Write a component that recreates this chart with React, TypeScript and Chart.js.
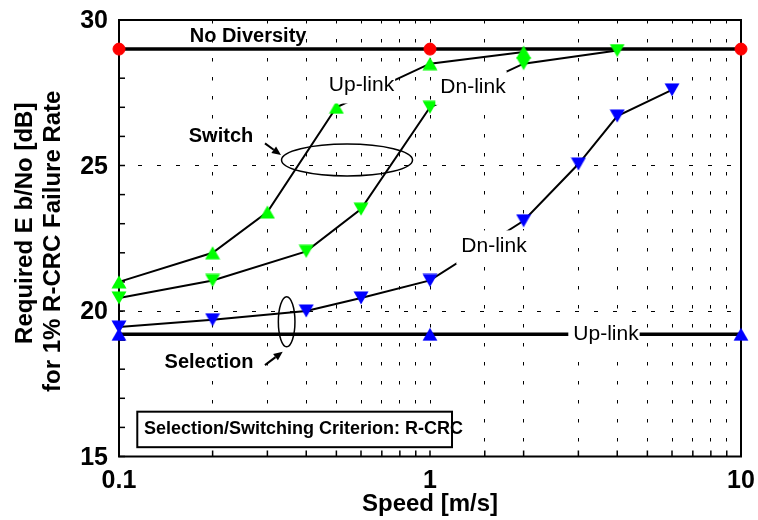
import { useEffect, useRef } from "react";
import { Chart, registerables } from "chart.js";
Chart.register(...registerables);

// ---- data ----
const noDivSpeed = [0.1, 1, 10];
const noDivEbNo = [29, 29, 29];
const selUpSpeed = [0.1, 1, 10];
const selUpEbNo = [19.2, 19.2, 19.2];
const selDnSpeed = [0.1, 0.2, 0.4, 0.6, 1, 2, 3, 4, 6];
const selDnEbNo = [19.45, 19.7, 20.0, 20.45, 21.05, 23.1, 25.05, 26.7, 27.6];
const swUpSpeed = [0.1, 0.2, 0.3, 0.5, 1, 2];
const swUpEbNo = [21.0, 22.0, 23.4, 27.0, 28.5, 28.9];
const swDnSpeed = [0.1, 0.2, 0.4, 0.6, 1, 2, 4];
const swDnEbNo = [20.45, 21.05, 22.05, 23.5, 27.0, 28.5, 28.95];

const xTickLabels = ["0.1", "1", "10"];
const yTickLabels = ["15", "20", "25", "30"];
const yGridValues = [20, 25];

const xTitle = "Speed [m/s]";
const yTitleLines = ["Required E b/No [dB]", "for 1% R-CRC Failure Rate"];
const criterionText = "Selection/Switching Criterion: R-CRC";

const FONT = "'Liberation Sans', Arial, Helvetica, sans-serif";

// annotations in data coordinates
const textNotes = [
  { text: "No Diversity", x: 0.26, y: 29.45, bold: true, size: 20, bg: false },
  { text: "Up-link", x: 0.602, y: 27.75, bold: false, size: 21, bg: true },
  { text: "Dn-link", x: 1.375, y: 27.7, bold: false, size: 21, bg: true },
  { text: "Switch", x: 0.2128, y: 25.98, bold: true, size: 20, bg: false },
  { text: "Selection", x: 0.1948, y: 18.23, bold: true, size: 20, bg: false },
  { text: "Dn-link", x: 1.606, y: 22.22, bold: false, size: 21, bg: true },
  { text: "Up-link", x: 3.68, y: 19.2, bold: false, size: 21, bg: true },
];
const ellipses = [
  { x: 0.541, y: 25.19, rx: 65.5, ry: 16 },
  { x: 0.346, y: 19.63, rx: 8.3, ry: 25 },
];
const arrows = [
  { x1: 0.2947, y1: 25.76, x2: 0.3318, y2: 25.36 },
  { x1: 0.2947, y1: 18.14, x2: 0.336, y2: 18.6 },
];
const criterionBox = { x1: 0.1145, y1: 16.54, x2: 1.177, y2: 15.32, tx: 0.1203, ty: 15.93 };

const pts = (xs: number[], ys: number[]) => xs.map((x, i) => ({ x, y: ys[i] }));

// triangle markers centred on their bounding box (as in the original plot)
const makeTri = (color: string, down: boolean) => {
  const c = document.createElement("canvas");
  c.width = 16;
  c.height = 14;
  const g = c.getContext("2d")!;
  g.fillStyle = color;
  g.beginPath();
  if (!down) {
    g.moveTo(8, 0.5);
    g.lineTo(15.5, 13.5);
    g.lineTo(0.5, 13.5);
  } else {
    g.moveTo(8, 13.5);
    g.lineTo(15.5, 0.5);
    g.lineTo(0.5, 0.5);
  }
  g.closePath();
  g.fill();
  return c;
};

const annotPlugin = {
  id: "annot",
  beforeDatasetsDraw(chart: any) {
    const { ctx, chartArea: a, scales } = chart;
    const xs = scales.x, ys = scales.y;
    ctx.save();
    ctx.strokeStyle = "#000";
    ctx.lineWidth = 1.5;
    ctx.setLineDash([]);
    for (const t of xs.ticks) {
      const px = xs.getPixelForValue(t.value);
      ctx.beginPath();
      ctx.moveTo(px, a.bottom);
      ctx.lineTo(px, a.bottom - 6);
      ctx.stroke();
    }
    for (const t of ys.ticks) {
      const py = ys.getPixelForValue(t.value);
      ctx.beginPath();
      ctx.moveTo(a.left, py);
      ctx.lineTo(a.left + 6, py);
      ctx.stroke();
    }
    ctx.lineWidth = 2;
    ctx.strokeRect(a.left, a.top, a.right - a.left, a.bottom - a.top);
    ctx.restore();
  },
  afterDatasetsDraw(chart: any) {
    const { ctx, scales } = chart;
    const xs = scales.x, ys = scales.y;
    const X = (v: number) => xs.getPixelForValue(v);
    const Y = (v: number) => ys.getPixelForValue(v);
    ctx.save();
    ctx.setLineDash([]);
    {
      const bx1 = X(criterionBox.x1), bx2 = X(criterionBox.x2);
      const by1 = Y(criterionBox.y1), by2 = Y(criterionBox.y2);
      ctx.fillStyle = "#fff";
      ctx.fillRect(bx1, by1, bx2 - bx1, by2 - by1);
      ctx.strokeStyle = "#000";
      ctx.lineWidth = 2;
      ctx.strokeRect(bx1, by1, bx2 - bx1, by2 - by1);
      ctx.fillStyle = "#000";
      ctx.font = `bold 18px ${FONT}`;
      ctx.textAlign = "left";
      ctx.textBaseline = "middle";
      ctx.fillText(criterionText, X(criterionBox.tx), Y(criterionBox.ty));
    }
    ctx.strokeStyle = "#000";
    ctx.lineWidth = 1.5;
    for (const e of ellipses) {
      ctx.beginPath();
      ctx.ellipse(X(e.x), Y(e.y), e.rx, e.ry, 0, 0, Math.PI * 2);
      ctx.stroke();
    }
    for (const ar of arrows) {
      const x1 = X(ar.x1), y1 = Y(ar.y1), x2 = X(ar.x2), y2 = Y(ar.y2);
      const ang = Math.atan2(y2 - y1, x2 - x1);
      const hl = 9, hw = 4;
      const bx = x2 - hl * Math.cos(ang), by = y2 - hl * Math.sin(ang);
      ctx.lineWidth = 2;
      ctx.beginPath();
      ctx.moveTo(x1, y1);
      ctx.lineTo(bx, by);
      ctx.stroke();
      ctx.fillStyle = "#000";
      ctx.beginPath();
      ctx.moveTo(x2, y2);
      ctx.lineTo(bx + hw * Math.sin(ang), by - hw * Math.cos(ang));
      ctx.lineTo(bx - hw * Math.sin(ang), by + hw * Math.cos(ang));
      ctx.closePath();
      ctx.fill();
    }
    for (const n of textNotes) {
      ctx.font = `${n.bold ? "bold " : ""}${n.size}px ${FONT}`;
      const w = ctx.measureText(n.text).width;
      const cx = X(n.x), cy = Y(n.y);
      if (n.bg) {
        ctx.fillStyle = "#fff";
        ctx.fillRect(cx - w / 2 - 5, cy - 16, w + 6, 34);
      }
      ctx.fillStyle = "#000";
      ctx.textAlign = "center";
      ctx.textBaseline = "middle";
      ctx.fillText(n.text, cx, cy);
    }
    ctx.restore();
  },
  afterDraw(chart: any) {
    const { ctx, chartArea: a } = chart;
    ctx.save();
    ctx.fillStyle = "#000";
    ctx.textAlign = "center";
    ctx.textBaseline = "middle";
    ctx.font = `bold 24px ${FONT}`;
    ctx.fillText(xTitle, (a.left + a.right) / 2, a.bottom + 48);
    const midY = (a.top + a.bottom) / 2;
    ctx.translate(25, midY - 15);
    ctx.rotate(-Math.PI / 2);
    ctx.fillText(yTitleLines[0], 0, 0);
    ctx.rotate(Math.PI / 2);
    ctx.translate(28, 18);
    ctx.rotate(-Math.PI / 2);
    ctx.fillText(yTitleLines[1], 0, 0);
    ctx.restore();
  },
};

const lineDs = (label: string, xs: number[], ys: number[], color: string, style: any, width: number, radius: number) => ({
  label,
  data: pts(xs, ys),
  borderColor: "#000",
  borderWidth: width,
  backgroundColor: color,
  pointStyle: style,
  pointRadius: radius,
  pointHoverRadius: radius,
  pointBackgroundColor: color,
  pointBorderColor: color,
  pointBorderWidth: 1,
  tension: 0,
  clip: false,
  fill: false,
});

export default function App() {
  const ref = useRef<HTMLCanvasElement>(null);
  useEffect(() => {
    const canvas = ref.current!;
    const greenUp = makeTri("#00ff00", false);
    const greenDn = makeTri("#00ff00", true);
    const blueUp = makeTri("#0000ff", false);
    const blueDn = makeTri("#0000ff", true);
    const chart = new Chart(canvas, {
      type: "line",
      data: {
        datasets: [
          lineDs("Switch Up-link", swUpSpeed, swUpEbNo, "#00ff00", greenUp, 2, 7),
          lineDs("Switch Dn-link", swDnSpeed, swDnEbNo, "#00ff00", greenDn, 2, 7),
          lineDs("Selection Dn-link", selDnSpeed, selDnEbNo, "#0000ff", blueDn, 2, 7),
          lineDs("Selection Up-link", selUpSpeed, selUpEbNo, "#0000ff", blueUp, 3.5, 7),
          lineDs("No Diversity", noDivSpeed, noDivEbNo, "#ff0000", "circle", 3.5, 6),
        ] as any,
      },
      options: {
        responsive: false,
        animation: false,
        devicePixelRatio: 1,
        layout: { autoPadding: false, padding: { left: 0, right: 17, top: 20, bottom: 0 } },
        plugins: { legend: { display: false }, tooltip: { enabled: false }, title: { display: false } },
        events: [],
        scales: {
          x: {
            type: "logarithmic",
            min: 0.1,
            max: 10,
            afterFit: (s: any) => { s.height = 63.5; s.paddingLeft = 0; s.paddingRight = 0; },
            grid: { color: "#000", lineWidth: 1, drawTicks: false, borderDash: [3.5, 15.5] } as any,
            border: { display: false, dash: [3.5, 15.5] },
            ticks: {
              autoSkip: false,
              maxRotation: 0,
              minRotation: 0,
              padding: 10,
              color: "#000",
              font: { family: FONT, size: 25, weight: "bold" },
              callback: (v: any) => {
                const l = xTickLabels.find((t) => Math.abs(Number(t) - Number(v)) < 1e-9);
                return l ?? "";
              },
            },
          },
          y: {
            type: "linear",
            min: 15,
            max: 30,
            afterFit: (s: any) => { s.width = 119; s.paddingTop = 0; s.paddingBottom = 0; },
            grid: {
              lineWidth: 1,
              drawTicks: false,
              color: (c: any) => (yGridValues.includes(c.tick?.value) ? "#000" : "rgba(0,0,0,0)"),
            },
            border: { display: false, dash: [4, 15] },
            ticks: {
              stepSize: 1,
              autoSkip: false,
              padding: 11,
              labelOffset: 1.5,
              color: "#000",
              font: { family: FONT, size: 25, weight: "bold" },
              callback: (v: any) => {
                const l = yTickLabels.find((t) => Number(t) === Number(v));
                return l ?? "";
              },
            },
          },
        },
      },
      plugins: [annotPlugin],
    } as any);
    return () => chart.destroy();
  }, []);
  return (
    <div style={{ position: "absolute", left: 0, top: 0, width: 758, height: 520, background: "#fff" }}>
      <canvas ref={ref} width={758} height={520} style={{ display: "block", width: 758, height: 520 }} />
    </div>
  );
}
